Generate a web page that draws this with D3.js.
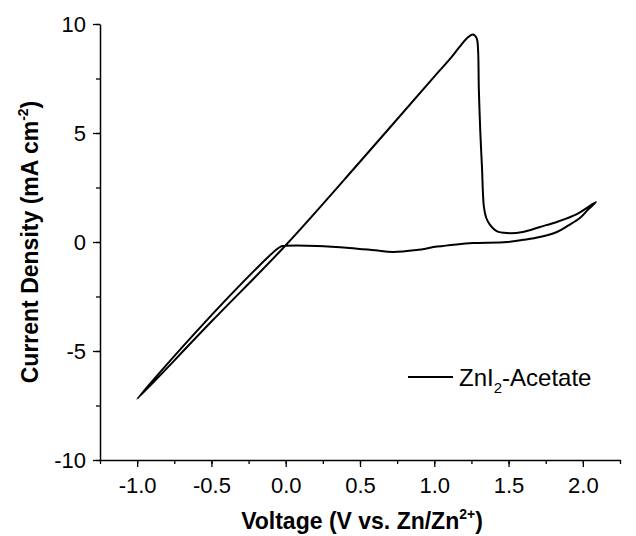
<!DOCTYPE html>
<html>
<head>
<meta charset="utf-8">
<script src="https://cdn.jsdelivr.net/npm/d3@7"></script>
<style>
  body { margin: 0; background: #fff; }
  text { font-family: Arial, "Liberation Sans", sans-serif; fill: #000; }
</style>
</head>
<body>
<div id="chart"></div>
<script>
// cyclic voltammogram, one closed loop (V, mA cm-2)
// starts at the corner near 0 V, goes down to -1 V, sweeps up through the peak,
// out to ~2.1 V and back along the lower branch
var voltage = [-0.025, -0.06, -0.18, -0.6, -1.0,
  -0.5, 0.0, 0.5, 1.0, 1.1, 1.17, 1.22, 1.26, 1.285, 1.294, 1.30, 1.31, 1.321, 1.334, 1.35, 1.374, 1.42, 1.489,
  1.596, 1.711, 1.825, 1.96, 2.088,
  2.03, 1.98, 1.9, 1.825, 1.71, 1.6, 1.49, 1.26, 1.15, 1.02, 0.88, 0.72, 0.6, 0.43, 0.21, 0.0, -0.025];
var current = [-0.18, -0.33, -1.1, -4.1, -7.2,
  -3.65, -0.15, 3.68, 7.59, 8.35, 8.95, 9.35, 9.52, 9.35, 8.9, 7.0, 5.0, 3.44, 1.61, 1.1, 0.8, 0.5, 0.41,
  0.46, 0.69, 0.92, 1.28, 1.83,
  1.45, 1.1, 0.75, 0.46, 0.23, 0.1, 0.0, -0.05, -0.11, -0.21, -0.37, -0.46, -0.38, -0.27, -0.18, -0.17, -0.18];

var xTicks = [-1.0, -0.5, 0.0, 0.5, 1.0, 1.5, 2.0];
var yTicks = [-10, -5, 0, 5, 10];
var seriesName = "ZnI2-Acetate";

var width = 636, height = 536;
var margin = {top: 24, right: 16, bottom: 76, left: 100};

var x = d3.scaleLinear().domain([-1.25, 2.25]).range([margin.left, width - margin.right]);
var y = d3.scaleLinear().domain([-10, 10]).range([height - margin.bottom, margin.top]);

var svg = d3.select("#chart").append("svg")
  .attr("width", width)
  .attr("height", height);

// minor ticks
var xMinor = d3.range(-1.25, 2.26, 0.25);
var yMinor = d3.range(-10, 10.1, 2.5);

svg.append("g")
  .attr("transform", "translate(0," + y(-10) + ")")
  .call(d3.axisBottom(x).tickValues(xMinor).tickSize(4).tickFormat(""))
  .call(function(g) { g.select(".domain").remove(); })
  .selectAll("line").attr("stroke-width", 1.3);

svg.append("g")
  .attr("transform", "translate(" + x(-1.25) + ",0)")
  .call(d3.axisLeft(y).tickValues(yMinor).tickSize(4).tickFormat(""))
  .call(function(g) { g.select(".domain").remove(); })
  .selectAll("line").attr("stroke-width", 1.3);

// x axis
var gx = svg.append("g")
  .attr("transform", "translate(0," + y(-10) + ")")
  .call(d3.axisBottom(x).tickValues(xTicks).tickSize(7).tickSizeOuter(0).tickPadding(10)
    .tickFormat(function(d) { return d.toFixed(1); }));
gx.select(".domain").attr("stroke-width", 1.5);
gx.selectAll("line").attr("stroke-width", 1.3);
gx.selectAll("text").attr("font-size", 22).style("font-family", "Arial, 'Liberation Sans', sans-serif");

// y axis
var gy = svg.append("g")
  .attr("transform", "translate(" + x(-1.25) + ",0)")
  .call(d3.axisLeft(y).tickValues(yTicks).tickSize(7).tickSizeOuter(0).tickPadding(7)
    .tickFormat(function(d) { return String(d); }));
gy.select(".domain").attr("stroke-width", 1.5);
gy.selectAll("line").attr("stroke-width", 1.3);
gy.selectAll("text").attr("font-size", 22).style("font-family", "Arial, 'Liberation Sans', sans-serif");

// curve
var points = voltage.map(function(v, i) { return [v, current[i]]; });
var line = d3.line()
  .x(function(d) { return x(d[0]); })
  .y(function(d) { return y(d[1]); })
  .curve(d3.curveCatmullRom.alpha(0.5));

svg.append("path")
  .datum(points)
  .attr("fill", "none")
  .attr("stroke", "#000")
  .attr("stroke-width", 2)
  .attr("stroke-linejoin", "round")
  .attr("d", line);

// axis titles
var xt = svg.append("text")
  .attr("x", 362)
  .attr("y", 529)
  .attr("text-anchor", "middle")
  .attr("font-size", 23)
  .attr("font-weight", "bold");
xt.append("tspan").text("Voltage (V vs. Zn/Zn");
xt.append("tspan").attr("font-size", 14).attr("dy", -10).text("2+");
xt.append("tspan").attr("dy", 10).text(")");

var yt = svg.append("text")
  .attr("transform", "translate(38," + 242 + ")rotate(-90)")
  .attr("text-anchor", "middle")
  .attr("font-size", 23)
  .attr("font-weight", "bold");
yt.append("tspan").text("Current Density (mA cm");
yt.append("tspan").attr("font-size", 14).attr("dy", -10).text("-2");
yt.append("tspan").attr("dy", 10).text(")");

// legend
svg.append("line")
  .attr("x1", 408).attr("x2", 453)
  .attr("y1", 377).attr("y2", 377)
  .attr("stroke", "#000")
  .attr("stroke-width", 2);

var lt = svg.append("text")
  .attr("x", 459)
  .attr("y", 386)
  .attr("font-size", 24);
lt.append("tspan").text(seriesName.slice(0, 3));
lt.append("tspan").attr("font-size", 15).attr("dy", 7).text(seriesName.slice(3, 4));
lt.append("tspan").attr("dy", -7).text(seriesName.slice(4));
</script>
</body>
</html>
